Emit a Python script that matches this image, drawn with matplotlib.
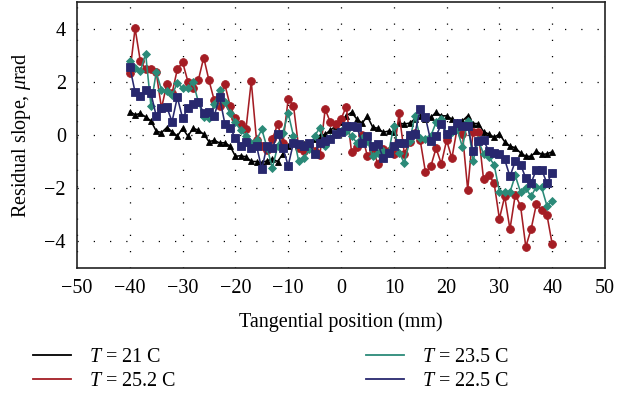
import matplotlib
matplotlib.use("Agg")
import matplotlib.pyplot as plt
import numpy as np
from matplotlib.lines import Line2D

x_mm = list(range(-40, 41))

t21 = [0.88, 0.76, 0.81, 0.68, 0.53, 0.15, 0.09, 0.28, 0.13, -0.04,
       0.25, -0.04, 0.25, 0.18, 0.03, -0.25, -0.20, -0.30, -0.29, -0.42,
       -0.80, -0.78, -0.82, -0.99, -1.00, -1.04, -0.97, -0.90, -1.00, -0.70,
       -0.42, -0.29, -0.40, -0.35, -0.29, -0.16, -0.04, 0.03, 0.18, 0.34,
       0.47, 0.72, 0.85, 0.60, 0.45, 0.70, 0.30, 0.25, 0.10, 0.15,
       0.10, 0.45, 0.41, 0.45, 0.60, 0.72, 0.60, 0.66, 0.85, 0.72,
       0.72, 0.60, 0.50, 0.53, 0.72, 0.43, 0.43, 0.13, 0.03, -0.08,
       0.03, -0.25, -0.42, -0.48, -0.67, -0.80, -0.80, -0.61, -0.73, -0.71,
       -0.63]

t252 = [2.33, 4.01, 2.77, 2.49, 2.49, 2.36, 1.01, 1.90, 1.57, 2.47,
        2.74, 2.01, 1.77, 2.08, 2.91, 2.05, 1.30, 1.10, 1.90, 1.10,
        0.63, 0.41, 0.22, 2.02, -0.20, -0.40, -0.58, -0.16, 0.41, -0.29,
        1.35, 1.10, -0.50, -0.60, -0.40, -0.60, -0.75, 0.97, 0.47, 0.41,
        0.60, 1.07, -0.65, -0.45, 0.00, -0.80, -0.55, -1.08, -0.54, -0.60,
        -0.70, 0.81, -0.70, -0.26, 0.09, -0.20, -1.40, -1.18, -0.50, -1.08,
        -0.20, -0.87, 0.25, 0.05, -2.06, 0.13, 0.13, -1.67, -1.50, -1.81,
        -3.15, -2.31, -3.54, -2.25, -2.66, -4.20, -3.54, -2.60, -2.82, -3.00,
        -4.10]

t235 = [2.78, 2.53, 2.39, 3.06, 1.10, 2.36, 1.70, 1.64, 1.51, 1.95,
        1.77, 1.77, 1.98, 1.23, 0.68, 0.63, 1.16, 1.70, 1.23, 0.81,
        0.47, 0.18, -0.04, -0.29, -0.20, 0.22, -0.48, -1.24, -0.42, 0.09,
        0.82, -0.04, -0.99, -0.86, -0.54, -0.04, 0.28, -0.42, -0.10, 0.03,
        0.15, 0.15, -0.04, -0.29, -0.10, -0.23, -0.80, -0.67, -0.61, -0.67,
        0.34, -0.67, -1.05, -0.23, 0.72, -0.10, -0.16, -0.04, 0.47, 0.60,
        0.03, 0.10, 0.22, -0.46, 0.53, -0.99, -0.20, -0.71, -0.84, -1.11,
        -2.13, -2.15, -2.15, -1.52, -2.15, -2.00, -2.31, -1.94, -1.97, -2.66,
        -2.48]

t225 = [2.56, 1.61, 1.48, 1.70, 1.57, 0.72, 1.01, 1.06, 0.50, 1.42,
        0.63, 1.01, 1.16, 1.25, 0.81, 0.85, 0.72, 1.42, 0.43, 0.25,
        -0.10, -0.40, -0.25, -0.50, -0.40, -1.28, -0.40, -0.50, 0.03, -0.50,
        -1.15, -0.29, -0.35, -0.40, -0.30, -0.73, -0.29, -0.23, -0.16, 0.03,
        0.10, 0.34, 0.34, 0.30, -0.29, -0.04, -0.42, -0.35, -0.86, -0.67,
        -0.42, -0.29, -0.29, 0.00, 0.05, 0.97, 0.66, -0.23, -0.04, 0.41,
        0.03, 0.20, 0.45, 0.34, 0.34, -0.61, -0.23, -0.20, -0.61, -0.67,
        -0.73, -0.92, -1.56, -0.99, -1.11, -1.62, -1.81, -1.30, -1.30, -1.81,
        -1.43]

labels = ["$T$ = 21 C", "$T$ = 25.2 C", "$T$ = 23.5 C", "$T$ = 22.5 C"]
colors = ["#000000", "#a41d24", "#2b8a78", "#28286e"]
markers = ["^", "o", "D", "s"]
msizes = [4.8, 5.6, 4.4, 5.4]
series = [t21, t252, t235, t225]

plt.rcParams["font.family"] = ["Liberation Serif", "DejaVu Serif"]
plt.rcParams["mathtext.fontset"] = "custom"
plt.rcParams["mathtext.rm"] = "Liberation Serif"
plt.rcParams["mathtext.it"] = "Liberation Serif:italic"

fig = plt.figure(figsize=(6.18, 4.08), dpi=100)
ax = fig.add_axes([77/618, 1-268/408, (605-77)/618, (268-2)/408])

zorders = [3, 4, 5, 6]
for s, lab, c, m, ms, z in zip(series, labels, colors, markers, msizes, zorders):
    ax.plot(x_mm, s, color=c, marker=m, markersize=ms, linewidth=1.15,
            markeredgewidth=0.6, markeredgecolor=c, label=lab, zorder=z)

ax.set_xlim(-50, 50)
ax.set_ylim(-5, 5)
ax.set_xticks(np.arange(-50, 51, 10))
ax.set_yticks([-4, -2, 0, 2, 4])
ax.grid(True, color="black", linestyle=(0, (1, 12)), linewidth=0.9)
ax.tick_params(length=0, labelsize=14.5, pad=8)
ax.set_xticklabels(["\u221250", "\u221240", "\u221230", "\u221220", "\u221210",
                    "0", "10", "20", "30", "40", "50"])
ax.set_yticklabels(["\u22124", "\u22122", "0", "2", "4"])
ax.set_xlabel("Tangential position (mm)", fontsize=14.5, labelpad=10)
ax.set_ylabel("Residual slope, $\\mu$rad", fontsize=14.5, labelpad=8)
for sp in ax.spines.values():
    sp.set_color("#222222")
    sp.set_linewidth(1.2)

leg_handles = [Line2D([0], [0], color=c, linewidth=1.3) for c in colors]
fig.legend(leg_handles, labels, loc="upper left", ncol=2,
           bbox_to_anchor=(0.053, 0.148), frameon=False, fontsize=14.5,
           handlelength=1.9, handletextpad=0.9, columnspacing=9.4,
           labelspacing=0.25, borderaxespad=0, borderpad=0)

fig.savefig("out.png", dpi=100)
